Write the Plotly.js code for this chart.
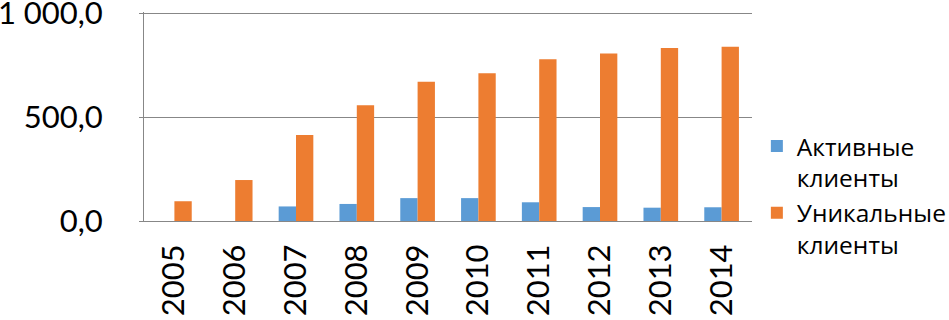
<!DOCTYPE html>
<html>
<head>
<meta charset="utf-8">
<script src="https://cdn.plot.ly/plotly-3.0.1.min.js"></script>
<style>html,body{margin:0;padding:0;background:#fff;}#chart{width:949px;height:320px;}</style>
</head>
<body>
<div id="chart"></div>
<script>
var years = ["2005","2006","2007","2008","2009","2010","2011","2012","2013","2014"];
var activeClients = [null, null, 70, 82, 110, 110, 90, 67, 64, 66];
var uniqueClients = [95, 197, 413, 557, 669, 710, 778, 805, 832, 838];
var seriesNames = ["Активные<br>клиенты", "Уникальные<br>клиенты"];
var yTickVals = [0, 500, 1000];
var yTickText = ["0,0", "500,0", "1 000,0"];

var FONT = "Lato, 'Open Sans', sans-serif";
var data = [
  {type: "bar", x: years, y: activeClients, name: seriesNames[0], marker: {color: "#5B9BD5"}},
  {type: "bar", x: years, y: uniqueClients, name: seriesNames[1], marker: {color: "#ED7D31"}}
];
var layout = {
  width: 949, height: 320,
  margin: {l: 144, r: 197, t: 12, b: 99, autoexpand: false},
  paper_bgcolor: "#fff", plot_bgcolor: "#fff",
  barmode: "group", bargap: 0.43, bargroupgap: 0,
  showlegend: true,
  font: {family: FONT, color: "#000"},
  legend: {x: 1.008, xanchor: "left", y: 0.466, yanchor: "top", valign: "top",
           font: {family: "'Open Sans', sans-serif", size: 24.5, color: "#000"},
           bgcolor: "rgba(0,0,0,0)", tracegroupgap: 0},
  xaxis: {type: "category", tickangle: -90, showgrid: false,
          showline: true, linecolor: "#878787", linewidth: 1,
          ticks: "", tickfont: {family: FONT, size: 31, color: "#000"},
          ticklabelstandoff: 10, ticklabeloverflow: "allow"},
  yaxis: {range: [0, 1005], tickvals: yTickVals, ticktext: yTickText,
          showgrid: true, gridcolor: "#878787", gridwidth: 1,
          showline: true, linecolor: "#878787", linewidth: 1,
          ticks: "outside", ticklen: 4, tickcolor: "#878787",
          zeroline: false, ticklabeloverflow: "allow",
          tickfont: {family: FONT, size: 31, color: "#000"},
          ticklabelstandoff: 30}
};
Plotly.newPlot("chart", data, layout, {displayModeBar: false, staticPlot: true});
</script>
</body>
</html>
